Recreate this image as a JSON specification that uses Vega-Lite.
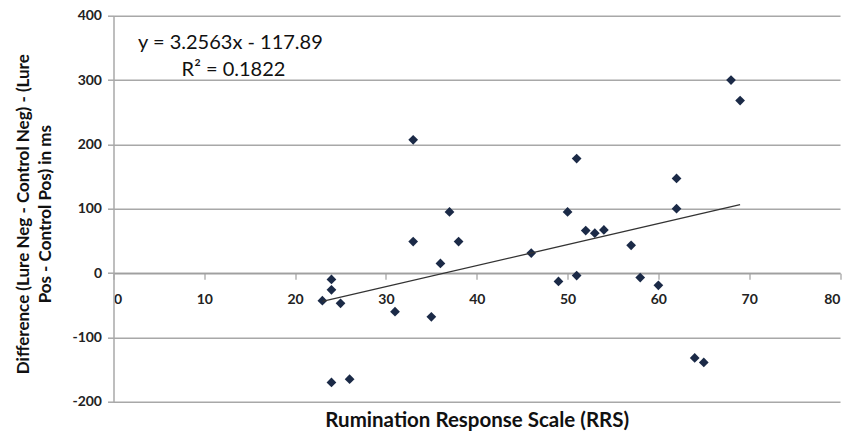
{
  "$schema": "https://vega.github.io/schema/vega-lite/v6.json",
  "width": 726.5,
  "height": 386,
  "autosize": "none",
  "padding": {"left": 113.5, "top": 15.7, "right": 19.5, "bottom": 31.3},
  "background": "white",
  "config": {"view": {"stroke": null}, "font": "Lato"},
  "datasets": {
    "points": [
      {"rrs": 23, "diff": -43}, {"rrs": 24, "diff": -10}, {"rrs": 24, "diff": -26}, {"rrs": 25, "diff": -47},
      {"rrs": 24, "diff": -170}, {"rrs": 26, "diff": -165}, {"rrs": 31, "diff": -60}, {"rrs": 33, "diff": 49},
      {"rrs": 35, "diff": -68}, {"rrs": 33, "diff": 207}, {"rrs": 36, "diff": 15}, {"rrs": 38, "diff": 49},
      {"rrs": 37, "diff": 95}, {"rrs": 46, "diff": 31}, {"rrs": 49, "diff": -13}, {"rrs": 50, "diff": 95},
      {"rrs": 51, "diff": -4}, {"rrs": 51, "diff": 178}, {"rrs": 52, "diff": 66}, {"rrs": 53, "diff": 62},
      {"rrs": 54, "diff": 67}, {"rrs": 57, "diff": 43}, {"rrs": 58, "diff": -7}, {"rrs": 60, "diff": -19},
      {"rrs": 62, "diff": 147}, {"rrs": 62, "diff": 100}, {"rrs": 64, "diff": -132}, {"rrs": 65, "diff": -139},
      {"rrs": 68, "diff": 300}, {"rrs": 69, "diff": 268}
    ],
    "notes": [
      {"rrs": 2.7, "diff": 358, "label": "y = 3.2563x - 117.89"},
      {"rrs": 7.5, "diff": 316, "label": "R² = 0.1822"}
    ]
  },
  "layer": [
    {
      "data": {"name": "points"},
      "mark": {"type": "point", "shape": "diamond", "filled": true, "size": 95, "color": "#1b2a47", "opacity": 1},
      "encoding": {
        "x": {
          "field": "rrs", "type": "quantitative",
          "scale": {"domain": [0, 80], "nice": false, "zero": false},
          "axis": {
            "values": [0, 10, 20, 30, 40, 50, 60, 70, 80],
            "offset": -128.4,
            "grid": false,
            "domainColor": "#a0a0a0", "domainWidth": 1.5,
            "tickColor": "#a0a0a0", "tickWidth": 1.2, "tickSize": 6,
            "labelFont": "Lato", "labelFontWeight": "bold", "labelFontSize": 14, "labelColor": "#222",
            "labelPadding": 13,
            "title": "Rumination Response Scale (RRS)",
            "titleFont": "Lato", "titleFontSize": 20.5, "titleFontWeight": "bold", "titleColor": "#111",
            "titleY": 147, "titleBaseline": "middle"
          }
        },
        "y": {
          "field": "diff", "type": "quantitative",
          "scale": {"domain": [-200, 400], "nice": false, "zero": false},
          "axis": {
            "values": [-200, -100, 0, 100, 200, 300, 400],
            "labelExpr": "replace(datum.label, '\u2212', '-')",
            "grid": true, "gridColor": "#a8a8a8", "gridWidth": 1.5,
            "domainColor": "#a8a8a8", "domainWidth": 1.5,
            "tickColor": "#a8a8a8", "tickWidth": 1.5, "tickSize": 6,
            "labelFont": "Lato", "labelFontWeight": "bold", "labelFontSize": 14, "labelColor": "#222",
            "labelPadding": 6,
            "title": ["Difference (Lure Neg - Control Neg) - (Lure", "Pos - Control Pos) in ms"],
            "titleFont": "Lato", "titleFontSize": 17, "titleFontWeight": "bold", "titleColor": "#111",
            "titleAngle": -90, "titleAlign": "center", "titleBaseline": "middle",
            "titleX": -90, "titleY": 198, "titleLineHeight": 22
          }
        }
      }
    },
    {
      "data": {"name": "points"},
      "transform": [{"regression": "diff", "on": "rrs"}],
      "mark": {"type": "line", "color": "#333333", "strokeWidth": 1.3},
      "encoding": {
        "x": {"field": "rrs", "type": "quantitative"},
        "y": {"field": "diff", "type": "quantitative"}
      }
    },
    {
      "data": {"name": "notes"},
      "mark": {"type": "text", "align": "left", "baseline": "middle", "fontSize": 20, "font": "Lato", "color": "#111"},
      "encoding": {
        "x": {"field": "rrs", "type": "quantitative"},
        "y": {"field": "diff", "type": "quantitative"},
        "text": {"field": "label"}
      }
    }
  ]
}
